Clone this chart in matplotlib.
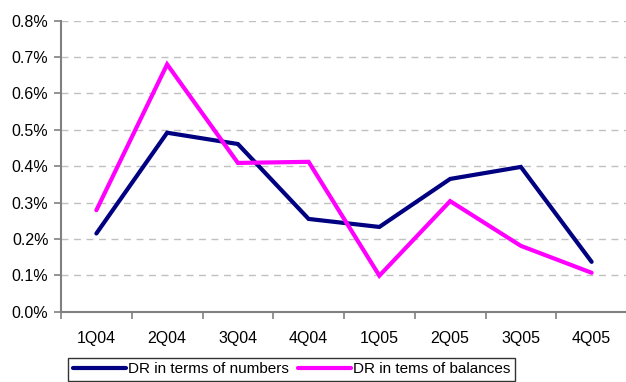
import matplotlib
matplotlib.use("Agg")
import matplotlib.pyplot as plt
from matplotlib.ticker import FixedLocator, FuncFormatter, NullFormatter

plt.rcParams['font.family'] = ['Liberation Sans', 'DejaVu Sans']

categories = ["1Q04", "2Q04", "3Q04", "4Q04", "1Q05", "2Q05", "3Q05", "4Q05"]
dr_numbers = [0.215, 0.492, 0.461, 0.255, 0.233, 0.365, 0.398, 0.137]
dr_balances = [0.279, 0.680, 0.409, 0.412, 0.099, 0.304, 0.181, 0.107]
yticks = [0.0, 0.1, 0.2, 0.3, 0.4, 0.5, 0.6, 0.7, 0.8]

W, H = 626, 382
fig = plt.figure(figsize=(W/100, H/100), dpi=100)
ax = fig.add_axes([61/W, 1-311.7/H, (627-61)/W, (311.7-20.7)/H])

x = list(range(len(categories)))
ax.plot(x, dr_numbers, color='#000080', lw=3.0, solid_joinstyle='miter',
        solid_capstyle='round', label='DR in terms of numbers', clip_on=False)
ax.plot(x, dr_balances, color='#ff00ff', lw=3.0, solid_joinstyle='miter',
        solid_capstyle='round', label='DR in tems of balances', clip_on=False)

ax.set_xlim(-0.5, len(categories)-0.5)
ax.set_ylim(0, 0.8)
ax.set_yticks(yticks)
ax.yaxis.set_major_formatter(FuncFormatter(lambda v, p: f"{v:.1f}%"))
ax.xaxis.set_major_locator(FixedLocator([i-0.5 for i in range(len(categories)+1)]))
ax.xaxis.set_major_formatter(NullFormatter())
ax.xaxis.set_minor_locator(FixedLocator(x))
ax.set_xticklabels(categories, minor=True)
ax.tick_params(axis='x', which='minor', length=0, pad=14, labelsize=11.5)
ax.tick_params(axis='x', which='major', length=5, color='#808080', width=1.2)
ax.tick_params(axis='y', length=5, color='#808080', width=1.2, labelsize=11.5, pad=4)

ax.grid(axis='y', color='#c0c0c0', linestyle=(0, (5, 4)), lw=1)
ax.set_axisbelow(True)
for s in ['top', 'right']:
    ax.spines[s].set_visible(False)
for s in ['left', 'bottom']:
    ax.spines[s].set_color('#808080')
    ax.spines[s].set_linewidth(1.5)

leg = fig.legend(loc='upper left', bbox_to_anchor=(68/W, 1-357.7/H), ncol=2,
                 frameon=True, fancybox=False, edgecolor='black', fontsize=11,
                 handlelength=3.5, handletextpad=0.1, columnspacing=0.6,
                 borderaxespad=0, borderpad=0.3)
leg.get_frame().set_linewidth(1.0)

fig.savefig('out.png', dpi=100)
